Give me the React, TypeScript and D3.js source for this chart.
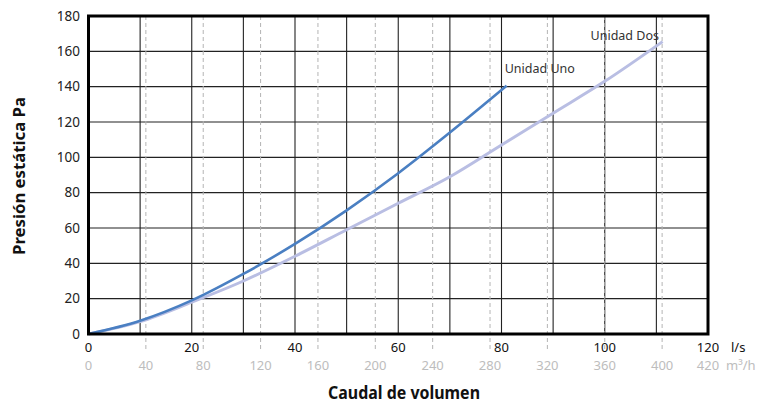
import React from "react";
import * as d3 from "d3";

const flowTicks = [0, 20, 40, 60, 80, 100, 120];
const flowGrid = [10, 20, 30, 40, 50, 60, 70, 80, 90, 100, 110];
const m3hTicks = [0, 40, 80, 120, 160, 200, 240, 280, 320, 360, 400];
const m3hEndLabel = "420";
const pressureTicks = [0, 20, 40, 60, 80, 100, 120, 140, 160, 180];

const unoFlow = [0, 10, 20, 30, 40, 50, 60, 70, 81];
const unoPressure = [0, 7.5, 19, 34, 51, 70, 91, 114, 140.5];
const dosFlow = [0, 10, 20, 30, 40, 50, 60, 70, 80, 90, 100, 111.2];
const dosPressure = [0, 7, 18, 30, 44, 59, 74, 89, 107, 125, 143, 165.5];

const W = 766;
const H = 405;
const font = "'Noto Sans', 'Open Sans', sans-serif";

export default function App() {
  const x = d3.scaleLinear().domain([0, 120]).range([88.5, 708]);
  const xm = d3.scaleLinear().domain([0, 432]).range([88.5, 708]);
  const y = d3.scaleLinear().domain([0, 180]).range([334, 16]);
  const [x0, x1] = x.range();
  const [y0, y1] = y.range();

  const line = d3
    .line<[number, number]>()
    .x((d) => x(d[0]))
    .y((d) => y(d[1]))
    .curve(d3.curveMonotoneX);

  const uno = unoFlow.map((f, i) => [f, unoPressure[i]] as [number, number]);
  const dos = dosFlow.map((f, i) => [f, dosPressure[i]] as [number, number]);
  const unoEnd = uno[uno.length - 1];
  const dosEnd = dos[dos.length - 1];

  return (
    <svg
      width={W}
      height={H}
      style={{ position: "absolute", left: 0, top: 0, background: "#fff" }}
      fontFamily={font}
    >
      {/* horizontal grid */}
      {pressureTicks.slice(1, -1).map((p) => (
        <line key={"h" + p} x1={x0} x2={x1} y1={y(p)} y2={y(p)} stroke="#222" strokeWidth={1.1} />
      ))}
      {/* vertical solid grid */}
      {flowGrid.map((f) => (
        <line key={"v" + f} x1={x(f)} x2={x(f)} y1={y1} y2={y0} stroke="#222" strokeWidth={1.1} />
      ))}
      {/* dashed m3/h grid */}
      {m3hTicks.slice(1).map((m) => (
        <line
          key={"d" + m}
          x1={xm(m)}
          x2={xm(m)}
          y1={y1}
          y2={352}
          stroke="#b4b4b4"
          strokeWidth={1}
          strokeDasharray="4,3"
        />
      ))}
      {/* curves */}
      <path d={line(dos) || ""} fill="none" stroke="#b9bee3" strokeWidth={3} />
      <path d={line(uno) || ""} fill="none" stroke="#4a7fc2" strokeWidth={2.6} />
      {/* frame */}
      <rect x={x0} y={y1} width={x1 - x0} height={y0 - y1} fill="none" stroke="#000" strokeWidth={3} />

      {/* series labels */}
      <text x={x(unoEnd[0]) - 2} y={y(unoEnd[1]) - 13} fontSize={12.5} fill="#333">
        Unidad Uno
      </text>
      <text x={x(dosEnd[0]) - 72} y={y(dosEnd[1]) - 2} fontSize={12.5} fill="#333">
        Unidad Dos
      </text>

      {/* y tick labels */}
      {pressureTicks.map((p) => (
        <text key={"yl" + p} x={80} y={y(p)} dy="0.35em" textAnchor="end" fontSize={13.5} fill="#222">
          {p}
        </text>
      ))}
      {/* x primary tick labels */}
      {flowTicks.map((f) => (
        <text key={"xl" + f} x={x(f)} y={352} textAnchor="middle" fontSize={13} fill="#111">
          {f}
        </text>
      ))}
      {/* x secondary tick labels */}
      {m3hTicks.map((m) => (
        <text key={"ml" + m} x={xm(m)} y={370} textAnchor="middle" fontSize={13} fill="#bdbdbd">
          {m}
        </text>
      ))}
      <text x={x1} y={370} textAnchor="middle" fontSize={13} fill="#bdbdbd">
        {m3hEndLabel}
      </text>
      <text x={731} y={352} fontSize={13} fill="#111">
        l/s
      </text>
      <text x={726} y={370} fontSize={13} fill="#bdbdbd">
        m³/h
      </text>

      {/* axis titles */}
      <text
        x={404}
        y={399}
        textAnchor="middle"
        fontSize={17}
        fontWeight="bold"
        fill="#111"
        textLength={152}
        lengthAdjust="spacingAndGlyphs"
      >
        Caudal de volumen
      </text>
      <text
        transform="translate(25,176) rotate(-90)"
        textAnchor="middle"
        fontSize={16}
        fontWeight="bold"
        fill="#111"
        textLength={158}
        lengthAdjust="spacingAndGlyphs"
      >
        Presión estática Pa
      </text>
    </svg>
  );
}
